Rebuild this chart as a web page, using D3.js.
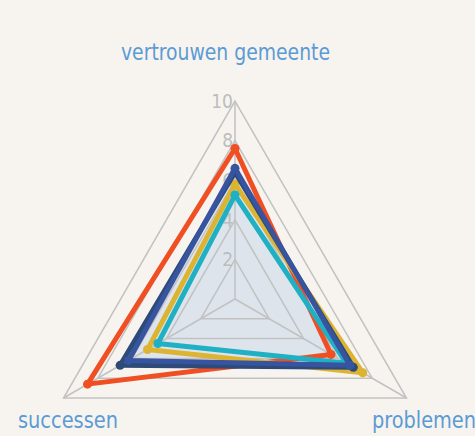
<!DOCTYPE html>
<html>
<head>
<meta charset="utf-8">
<script src="https://cdn.jsdelivr.net/npm/d3@7"></script>
<style>
html,body{margin:0;padding:0;background:#f7f4ef;}
svg{display:block;}
</style>
</head>
<body>
<svg id="chart" width="475" height="436"></svg>
<script>
const axesLabels = ["vertrouwen gemeente", "problemen", "successen"];
const tickValues = [2, 4, 6, 8, 10];
const seriesNames = ["orange", "yellow", "cyan", "navy", "blue"];
const seriesColors = ["#f04e23", "#dcb432", "#1fb0c3", "#2e4a78", "#3654a0"];
const orangeValues = [7.6, 5.6, 8.6];
const yellowValues = [5.8, 7.45, 5.1];
const cyanValues = [5.25, 6.5, 4.5];
const navyValues = [6.4, 6.9, 6.7];
const blueValues = [6.6, 6.7, 6.2];
const seriesValues = [orangeValues, yellowValues, cyanValues, navyValues, blueValues];

const W = 475, H = 436, cx = 235, cy = 299, R = 198;
const svg = d3.select("#chart");
svg.append("rect").attr("width", W).attr("height", H).attr("fill", "#f7f4ef");
const g = svg.append("g").attr("transform", `translate(${cx},${cy})`);
const r = d3.scaleLinear().domain([0, 10]).range([0, R]);
const angle = i => i * 2 * Math.PI / axesLabels.length;
const radial = d3.lineRadial().angle((d, i) => angle(i)).radius(d => r(d)).curve(d3.curveLinearClosed);
const pt = (v, i) => [r(v) * Math.sin(angle(i)), -r(v) * Math.cos(angle(i))];
const font = "'Liberation Sans Narrow','DejaVu Sans Condensed',sans-serif";

// area fill
g.append("path").attr("d", radial(navyValues)).attr("fill", "#dde4ec");

// grid
tickValues.forEach(t => {
  g.append("path").attr("d", radial(axesLabels.map(() => t)))
    .attr("fill", "none").attr("stroke", "#c2c2c2").attr("stroke-width", 1.5);
});
axesLabels.forEach((a, i) => {
  const p = pt(10, i);
  g.append("line").attr("x1", 0).attr("y1", 0).attr("x2", p[0]).attr("y2", p[1])
    .attr("stroke", "#c2c2c2").attr("stroke-width", 1.5);
});
// tick labels
tickValues.forEach(t => {
  g.append("text").attr("x", -2).attr("y", -r(t)).attr("dy", "0.36em")
    .attr("text-anchor", "end").attr("fill", "#bdbdbd")
    .style("font-family", font)
    .style("font-size", "19px").text(t);
});

// series
seriesValues.forEach((vals, k) => {
  g.append("path").attr("d", radial(vals)).attr("fill", "none")
    .attr("stroke", seriesColors[k]).attr("stroke-width", 5).attr("stroke-linejoin", "round");
  vals.forEach((v, i) => {
    const p = pt(v, i);
    g.append("circle").attr("cx", p[0]).attr("cy", p[1]).attr("r", 4.5).attr("fill", seriesColors[k]);
  });
});

// axis labels
const labelPos = [[121, 60, 209], [372, 428, 104], [18, 428, 100]];
axesLabels.forEach((a, i) => {
  svg.append("text").attr("x", labelPos[i][0]).attr("y", labelPos[i][1])
    .attr("text-anchor", "start").attr("fill", "#5b9bd5")
    .attr("textLength", labelPos[i][2]).attr("lengthAdjust", "spacingAndGlyphs")
    .style("font-family", font)
    .style("font-size", "23px").text(a);
});
</script>
</body>
</html>
